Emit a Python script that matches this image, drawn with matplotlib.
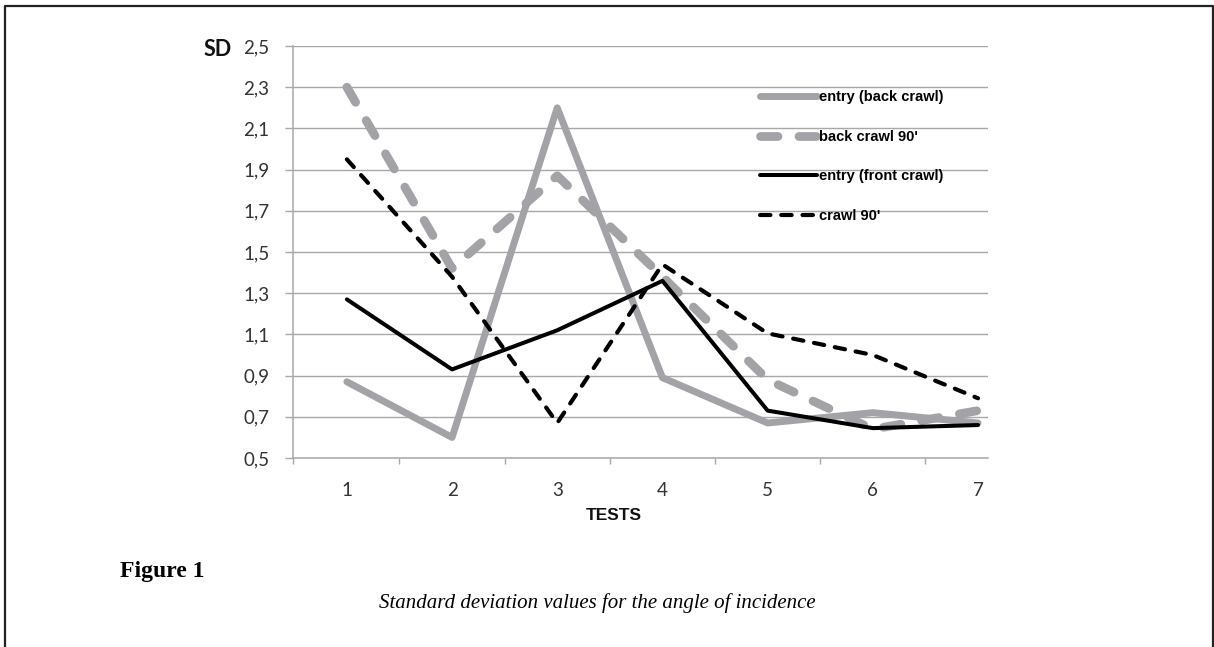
import matplotlib
matplotlib.use("Agg")
import matplotlib.pyplot as plt
from matplotlib.lines import Line2D

# data
tests = [1, 2, 3, 4, 5, 6, 7]
entry_back = [0.87, 0.60, 2.20, 0.89, 0.67, 0.72, 0.67]
back_90 = [2.30, 1.42, 1.87, 1.38, 0.88, 0.64, 0.73]
entry_front = [1.27, 0.93, 1.12, 1.36, 0.73, 0.645, 0.66]
crawl_90 = [1.95, 1.38, 0.67, 1.44, 1.105, 1.00, 0.79]

y_ticks = [0.5, 0.7, 0.9, 1.1, 1.3, 1.5, 1.7, 1.9, 2.1, 2.3, 2.5]
y_labels = [f"{v:.1f}".replace(".", ",") for v in y_ticks]

GRAY = "#a3a3a7"
GRID = "#a8a8a8"
TXT = "#333333"

W, H = 1214, 647
fig = plt.figure(figsize=(W / 100, H / 100), dpi=100)
fig.patch.set_facecolor("white")

# page frame (open at the bottom)
fx0, fx1, fy1 = 5 / W, 1213 / W, 1 - 6 / H
fig.add_artist(Line2D([fx0, fx0, fx1, fx1], [0, fy1, fy1, 0],
                      transform=fig.transFigure, color="#222222", lw=1.6))

ax = fig.add_axes([293 / W, 1 - 458 / H, 695 / W, 412 / H])

ax.plot(tests, entry_back, color=GRAY, lw=5.0, solid_capstyle="round",
        solid_joinstyle="round", label="entry (back crawl)")
ax.plot(tests, back_90, color=GRAY, lw=6.3, dashes=(2.0, 2.4),
        dash_capstyle="round", dash_joinstyle="round", label="back crawl 90'")
ax.plot(tests, entry_front, color="black", lw=2.9, solid_capstyle="round",
        solid_joinstyle="round", label="entry (front crawl)")
ax.plot(tests, crawl_90, color="black", lw=3.0, dashes=(2.5, 2.6),
        dash_capstyle="round", dash_joinstyle="round", label="crawl 90'")

ax.set_xlim(0.488, 7.095)
ax.set_ylim(0.5, 2.5)

ax.set_yticks(y_ticks)
ax.set_yticklabels(y_labels)
ax.set_xticks(tests)
ax.set_xticklabels([str(t) for t in tests])
ax.set_xticks([0.488] + [t + 0.5 for t in tests[:-1]], minor=True)

ax.tick_params(axis="y", which="major", length=5.5, width=1.0, color=GRID,
               pad=11.5, labelsize=13.5, labelcolor=TXT)
ax.tick_params(axis="x", which="major", length=0, pad=17, labelsize=13.5,
               labelcolor=TXT)
ax.tick_params(axis="x", which="minor", length=4.5, width=1.0, color=GRID)
for lab in ax.get_xticklabels() + ax.get_yticklabels():
    lab.set_family("Lato")

ax.grid(axis="y", color=GRID, lw=1.0)
ax.set_axisbelow(True)
for side in ("top", "right"):
    ax.spines[side].set_visible(False)
for side in ("left", "bottom"):
    ax.spines[side].set_color(GRID)
    ax.spines[side].set_linewidth(1.1)

leg = ax.legend(loc="upper left", bbox_to_anchor=(0.672, 0.893),
                frameon=False, borderpad=0, borderaxespad=0,
                handlelength=3.9, handletextpad=0.15, labelspacing=1.75,
                prop={"family": "Liberation Sans", "weight": "bold", "size": 10.5})

fig.text(218 / W, 1 - 49 / H, "SD", ha="center", va="center",
         family="Lato", weight="bold", fontsize=15.5, color="#111111")
fig.text(614 / W, 1 - 515 / H, "TESTS", ha="center", va="center",
         family="Liberation Sans", weight="bold", fontsize=12.5, color="#111111")
fig.text(120 / W, 1 - 571 / H, "Figure 1", ha="left", va="center",
         family="Liberation Serif", weight="bold", fontsize=17, color="black")
fig.text(597 / W, 1 - 603 / H, "Standard deviation values for the angle of incidence",
         ha="center", va="center", family="Liberation Serif", style="italic",
         fontsize=15, color="black")

fig.savefig("out.png", dpi=100)
